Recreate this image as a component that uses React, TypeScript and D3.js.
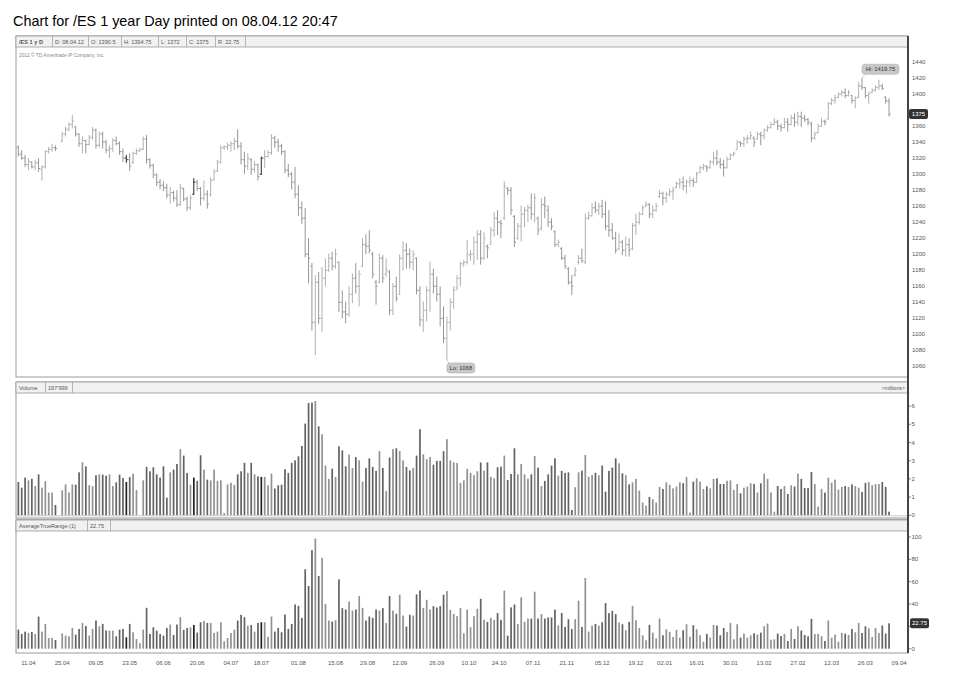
import * as d3 from "d3";

// daily bars: [open, high, low, close]; null = no session
const ohlc: ([number, number, number, number] | null)[] = [
  [1333,1336,1322,1325],[1325,1330,1318,1320],[1320,1324,1309,1312],[1312,1320,1305,1316],[1315,1316,1307,1309],
  [1309,1318,1305,1314],[1314,1320,1303,1307],[1306,1311,1292,1309],[1309,1330,1307,1328],[1328,1334,1326,1331],
  [1331,1338,1328,1333],[1333,1336,1329,1332],null,[1341,1353,1340,1350],[1350,1359,1347,1356],
  [1356,1365,1353,1362],[1362,1374,1357,1366],[1359,1360,1347,1350],[1350,1351,1334,1338],[1338,1347,1326,1342],
  [1342,1343,1326,1337],[1337,1349,1336,1346],[1346,1359,1343,1355],[1355,1357,1332,1336],[1336,1353,1333,1350],
  [1350,1353,1332,1340],[1340,1343,1326,1330],[1330,1336,1320,1332],[1332,1345,1328,1342],[1342,1347,1336,1338],
  [1338,1341,1324,1328],[1328,1332,1315,1320],[1320,1324,1314,1318],[1318,1326,1304,1310],[1314,1328,1313,1326],
  [1326,1332,1324,1329],[1329,1333,1328,1331],[1331,1347,1330,1344],[1344,1349,1313,1318],[1318,1320,1307,1311],
  [1311,1313,1295,1299],[1299,1301,1285,1290],[1290,1294,1281,1286],[1286,1291,1279,1283],[1283,1288,1270,1274],
  [1274,1284,1263,1277],[1277,1279,1266,1270],[1270,1280,1259,1262],[1262,1288,1260,1283],[1282,1283,1266,1269],
  [1269,1272,1254,1258],[1258,1274,1255,1270],[1275,1295,1274,1290],[1290,1293,1279,1282],[1282,1284,1261,1270],
  [1270,1292,1267,1275],[1275,1280,1257,1263],[1274,1296,1272,1292],[1293,1306,1292,1303],[1304,1318,1303,1315],
  [1315,1336,1313,1333],[1333,1336,1330,1334],[1334,1339,1330,1336],[1336,1341,1328,1338],[1338,1345,1330,1341],
  [1341,1356,1332,1335],[1335,1340,1312,1318],[1318,1328,1300,1310],[1310,1326,1305,1320],[1318,1320,1299,1306],
  [1306,1316,1302,1312],[1312,1313,1292,1297],[1300,1322,1299,1320],[1320,1330,1308,1322],[1322,1330,1321,1327],
  [1327,1350,1324,1345],[1345,1348,1333,1340],[1340,1344,1328,1335],[1335,1338,1324,1328],[1328,1330,1301,1305],
  [1305,1313,1296,1300],[1300,1303,1281,1290],[1290,1309,1270,1275],[1275,1286,1248,1258],[1258,1266,1238,1245],
  [1245,1258,1196,1200],[1200,1220,1164,1195],[1185,1189,1105,1115],[1115,1174,1074,1165],[1165,1178,1113,1120],
  [1120,1184,1103,1170],[1170,1195,1160,1180],[1180,1201,1178,1195],[1195,1203,1180,1185],[1185,1207,1182,1200],
  [1190,1191,1128,1140],[1140,1155,1120,1128],[1128,1141,1114,1125],[1125,1160,1122,1150],[1150,1176,1139,1170],
  [1170,1189,1151,1160],[1160,1180,1135,1175],[1185,1220,1184,1212],[1212,1225,1200,1210],[1210,1230,1201,1205],
  [1200,1203,1170,1175],[1165,1168,1137,1160],[1165,1201,1164,1195],[1195,1199,1164,1170],[1175,1195,1172,1180],
  [1178,1180,1124,1130],[1130,1164,1124,1160],[1160,1172,1141,1145],[1150,1200,1150,1195],[1195,1216,1180,1205],
  [1205,1214,1182,1200],[1200,1207,1182,1190],[1190,1205,1180,1200],[1195,1196,1150,1155],[1155,1160,1110,1118],
  [1118,1141,1103,1130],[1130,1160,1116,1155],[1155,1191,1128,1175],[1175,1182,1151,1160],[1160,1172,1141,1150],
  [1150,1160,1110,1120],[1120,1135,1089,1095],[1095,1122,1068,1115],[1115,1145,1105,1140],[1140,1160,1132,1155],
  [1158,1174,1155,1170],[1170,1191,1160,1188],[1188,1193,1184,1190],[1190,1218,1187,1200],[1199,1205,1192,1200],
  [1200,1222,1187,1215],[1215,1230,1193,1225],[1225,1230,1187,1195],[1195,1228,1193,1220],[1210,1212,1195,1208],
  [1212,1234,1212,1230],[1230,1253,1222,1245],[1245,1255,1224,1240],[1240,1243,1220,1238],[1245,1291,1243,1285],
  [1282,1284,1274,1280],[1280,1284,1249,1255],[1247,1249,1209,1215],[1220,1239,1218,1235],[1235,1261,1216,1250],
  [1250,1259,1234,1255],[1255,1262,1240,1258],[1258,1276,1243,1250],[1250,1276,1240,1270],[1245,1247,1224,1230],
  [1232,1270,1230,1262],[1262,1272,1245,1260],[1255,1261,1234,1240],[1240,1245,1230,1235],[1228,1230,1209,1212],
  [1212,1218,1209,1215],[1207,1209,1193,1195],[1195,1199,1182,1185],[1182,1184,1162,1165],[1165,1174,1149,1160],
  [1174,1184,1172,1180],[1190,1199,1187,1195],[1195,1207,1189,1192],[1190,1251,1188,1245],[1245,1253,1243,1248],
  [1248,1264,1247,1258],[1258,1266,1251,1255],[1255,1264,1249,1260],[1260,1268,1245,1250],[1250,1266,1230,1235],
  [1235,1255,1222,1230],[1230,1239,1218,1220],[1220,1228,1201,1205],[1207,1226,1205,1215],[1215,1218,1199,1205],
  [1205,1222,1197,1212],[1212,1220,1197,1205],[1207,1239,1205,1236],[1236,1251,1224,1240],[1240,1253,1237,1250],
  [1250,1261,1249,1258],[1260,1266,1259,1262],[1262,1264,1245,1250],[1250,1261,1245,1255],[1255,1264,1253,1260],
  [1272,1280,1270,1276],[1276,1278,1261,1270],[1270,1278,1264,1275],[1275,1282,1272,1278],[1278,1284,1268,1280],
  [1284,1291,1282,1288],[1288,1295,1282,1290],[1290,1297,1280,1285],[1285,1293,1276,1290],[1290,1297,1284,1292],
  [1292,1295,1284,1290],[1290,1303,1289,1300],[1302,1311,1301,1308],[1308,1313,1305,1310],[1310,1311,1303,1308],
  [1308,1318,1307,1315],[1315,1328,1311,1320],[1320,1330,1311,1315],[1315,1320,1307,1312],[1312,1318,1297,1308],
  [1308,1322,1307,1318],[1319,1326,1318,1324],[1324,1328,1322,1326],[1331,1343,1330,1340],[1340,1341,1334,1338],
  [1338,1347,1334,1344],[1344,1349,1338,1345],[1345,1353,1343,1348],[1345,1347,1334,1340],[1344,1353,1343,1350],
  [1350,1353,1336,1348],[1348,1357,1343,1355],[1355,1361,1353,1358],[1358,1365,1357,1362],[1362,1370,1361,1365],
  [1365,1368,1355,1360],[1360,1363,1353,1358],[1358,1370,1357,1365],[1365,1370,1353,1362],[1362,1374,1361,1370],
  [1370,1376,1359,1365],[1365,1378,1361,1372],[1372,1378,1359,1370],[1370,1374,1365,1368],[1368,1370,1361,1365],
  [1363,1365,1340,1345],[1345,1353,1343,1350],[1352,1363,1351,1360],[1360,1370,1359,1366],[1366,1368,1361,1365],
  [1369,1390,1368,1388],[1388,1395,1386,1392],[1392,1399,1388,1395],[1396,1402,1395,1400],[1400,1405,1397,1402],
  [1402,1407,1395,1398],[1398,1405,1397,1402],[1398,1399,1388,1392],[1392,1397,1382,1395],[1396,1415,1395,1410],
  [1410,1419.75,1405,1408],[1408,1409,1395,1398],[1398,1403,1388,1400],[1402,1407,1401,1405],[1405,1411,1403,1408],
  [1408,1418,1405,1410],[1410,1413,1405,1407],[1396,1397,1388,1392],[1390.5,1394.75,1372,1375],
];

// volume, millions of contracts
const volume: (number | null)[] = [
  1.83,1.52,2.07,1.92,2.01,1.61,2.25,1.52,1.87,1.25,1.25,0.57,null,
  1.37,1.7,1.26,1.7,1.68,2.36,2.91,2.69,1.65,1.6,2.2,2.25,2.23,2.18,2.25,1.61,1.81,2.23,2.05,1.83,2.1,2.29,1.39,null,
  1.92,2.66,2.42,2.64,2.25,2.07,2.69,0.97,2.36,2.51,2.82,3.63,3.28,2.33,1.68,2.07,1.89,3.3,2.51,1.96,1.92,2.51,1.89,1.92,0.13,
  1.7,1.79,1.67,2.25,2.42,2.88,2.33,2.88,2.25,2.14,2.11,2.11,1.65,2.29,1.47,1.65,1.68,2.53,2.33,2.88,3.02,3.24,3.81,5.04,6.17,6.19,6.28,4.89,4.45,2.73,
  2.0,2.56,2.11,3.79,3.57,2.69,3.33,2.6,3.2,3.02,1.85,2.6,3.13,2.66,2.44,3.53,2.6,1.34,3.17,3.63,3.68,3.53,3.02,2.66,2.47,2.6,3.28,4.73,3.35,3.08,
  3.2,2.78,2.99,2.99,3.52,4.18,3.02,2.91,2.88,1.78,1.92,2.55,2.33,2.2,2.42,2.9,
  2.45,2.91,2.12,2.03,2.64,2.67,3.28,1.94,2.27,3.68,
  2.25,2.82,2.25,2.01,2.25,3.26,2.62,1.61,1.89,2.25,
  2.73,3.13,2.18,2.44,2.33,2.36,0.29,1.54,2.36,2.45,
  3.32,2.12,2.22,2.34,2.2,2.73,1.3,2.44,2.62,3.13,
  2.86,2.31,2.2,1.7,1.81,2.0,1.36,0.7,0.53,1.01,
  0.88,0.7,1.56,1.45,1.81,1.68,1.48,1.58,1.81,1.76,
  2.11,0.15,1.85,2.03,1.85,1.45,1.59,1.48,2.0,2.03,
  1.72,1.72,1.9,1.92,1.39,1.72,1.21,1.52,1.58,1.76,
  1.72,1.25,1.76,2.29,2.0,1.26,0.2,1.61,1.45,1.61,
  1.17,1.65,1.58,2.29,2.0,1.5,1.5,2.38,1.72,0.48,
  1.45,1.25,2.07,1.79,1.96,1.41,1.56,1.61,1.56,1.7,
  1.61,1.52,1.28,1.78,1.83,1.65,1.72,1.72,1.83,1.56,
  0.2,
];

// AverageTrueRange (1)
const atr: (number | null)[] = [
  17.1,13.2,15.3,14.1,15,13.2,28.8,15.3,22.2,9.6,9.6,7.8,null,
  13.8,11.7,11.1,18.6,12.6,17.7,23.1,20.4,11.7,17.7,25.2,20.1,22.2,16.2,16.2,16.2,11.1,17.1,17.7,10.2,22.2,14.7,8.7,4.8,
  17.1,36.6,13.2,19.2,16.2,13.2,11.7,18.6,21.6,12.3,21.6,28.2,16.8,18.6,19.2,21.3,14.4,23.7,24.9,23.1,23.1,14.1,15.3,23.7,6.6,
  9.6,14.1,17.1,25.2,30.3,28.2,20.7,21.3,15.3,23.1,23.7,23.7,10.8,28.8,15.3,18.6,14.7,30.6,17.7,22.2,39.6,38.4,27.6,71.1,56.1,88.2,98.7,65.1,81.3,40.2,
  25.2,24.3,25.5,62.1,36.3,35.1,42.3,34.2,35.1,47.1,36.6,25.2,28.8,27.6,35.1,34.2,36.3,23.1,47.1,34.2,31.2,48.3,29.7,19.8,30.3,29.7,48.6,52.2,36.6,43.8,
  35.1,38.1,36.9,38.1,48.3,51.6,34.8,31.2,29.1,36.3,13.8,35.1,19.2,29.1,35.7,44.7,
  26,24,27.6,25.8,32,25.8,52,11.7,37,39.6,
  22,46,24,27,27,51,27,31,27,28,
  28,35,21,32,19.5,26.4,17.7,26.4,43,19.5,
  63.3,15.3,20.7,22.2,20.7,23.7,40.8,31.8,33.9,30.9,
  23.4,21.9,16.5,24,38.4,25.5,18.6,12,7.5,21.3,
  14.4,9.3,27,12,17.4,15,10.5,16.8,9.9,16.5,
  21.9,10.8,21,17.4,12,6.3,13.2,9.9,21.3,20.7,
  12,18.6,15,23.1,8.4,21.9,9.9,13.5,9.9,12,
  13.8,12.6,14.4,20.1,22.5,8.1,8.4,13.5,11.4,13.2,
  6.9,17.7,8.7,20.1,16.2,12.3,11.1,26.7,13.2,13.2,
  11.1,6.9,25.2,9.9,12.6,6.3,14.1,13.5,12.3,17.7,
  14.7,23.1,14.1,20.1,18.3,10.5,18.6,14.1,20.7,13.5,
  22.75,
];

const darkBars = [32, 52, 72];

const priceTicks = [1060,1080,1100,1120,1140,1160,1180,1200,1220,1240,1260,1280,1300,1320,1340,1360,1380,1400,1420,1440];
const volumeTicks = [0, 1, 2, 3, 4, 5, 6];
const atrTicks = [0, 20, 40, 60, 80, 100];

const dateLabels = ["11.04","25.04","09.05","23.05","06.06","20.06","04.07","18.07","01.08","15.08","29.08","12.09","26.09","10.10",
  "24.10","07.11","21.11","05.12","19.12","02.01","16.01","30.01","13.02","27.02","12.03","26.03","09.04"];
const dateIndex = [3,13,23,33,43,53,63,72,83,94,103.5,113,124,133.5,142.5,152.5,162.5,173,183,191.5,201,211,221,231,241,251,261];

const hiIndex = 250;
const loIndex = 127;

const FONT = "'Liberation Sans', Arial, sans-serif";
const L = 16;
const R = 908;

function Header({ y, cells }: { y: number; cells: { t: string; w: number; b?: boolean }[] }) {
  let cx = L;
  return (
    <g>
      <rect x={L} y={y} width={R - L} height={11} fill="#f1f1f1" stroke="#9a9a9a" strokeWidth={0.8} />
      {cells.map((c, i) => {
        const x0 = cx;
        cx += c.w;
        return (
          <g key={i}>
            <text x={x0 + 3} y={y + 8} fontSize={5.6} fontWeight={c.b ? "bold" : "normal"} fill="#555" fontFamily={FONT}>{c.t}</text>
            <line x1={cx + 0.5} x2={cx + 0.5} y1={y} y2={y + 11} stroke="#a5a5a5" strokeWidth={0.8} />
          </g>
        );
      })}
    </g>
  );
}

export default function App() {
  const n = ohlc.length;
  const x = d3.scaleLinear().domain([0, n - 1]).range([18.3, 889]);
  const yP = d3.scaleLinear().domain([1060, 1440]).range([366.4, 62]);
  const yV = d3.scaleLinear().domain([0, 6]).range([515.3, 406.1]);
  const yA = d3.scaleLinear().domain([0, 100]).range([648.7, 537]);

  const last = ohlc[n - 1]!;
  const lastAtr = atr[n - 1]!;
  const isUp = (i: number) => { const b = ohlc[i]; return b ? b[3] >= b[0] : true; };

  const priceColor = (i: number) => darkBars.includes(i) ? "#2a2a2a" : isUp(i) ? "#b0b0b0" : "#969696";
  const subColor = (i: number) => darkBars.includes(i) ? "#222" : isUp(i) ? "#929292" : "#626262";

  const hi = ohlc[hiIndex]!;
  const lo = ohlc[loIndex]!;

  // axis labels hidden behind the last-value markers, as in the reference
  const priceMarkY = yP(last[3]);
  const atrMarkY = yA(lastAtr);

  return (
    <svg width={953} height={682} style={{ position: "absolute", left: 0, top: 0, background: "#fff" }}>
      <text x={13} y={26} fontSize={14.4} fill="#000" fontFamily={FONT}>Chart for /ES 1 year Day printed on 08.04.12 20:47</text>

      {/* price panel */}
      <rect x={L} y={36} width={R - L} height={341} fill="none" stroke="#9a9a9a" strokeWidth={1} />
      <Header y={36} cells={[
        { t: "/ES 1 y D", w: 36, b: true },
        { t: "D: 08.04.12", w: 36 },
        { t: `O: ${last[0]}`, w: 33 },
        { t: `H: ${last[1]}`, w: 37 },
        { t: `L: ${last[2]}`, w: 28 },
        { t: `C: ${last[3]}`, w: 29 },
        { t: `R: ${lastAtr}`, w: 30 },
      ]} />
      <text x={19} y={57} fontSize={4.8} fill="#888" fontFamily={FONT}>2012 © TD Ameritrade IP Company, Inc.</text>

      {priceTicks.filter(t => Math.abs(yP(t) - priceMarkY) > 6).map(t => (
        <text key={t} x={912} y={yP(t) + 2} fontSize={6} fill="#555" fontFamily={FONT}>{t}</text>
      ))}

      {ohlc.map((b, i) => {
        if (!b) return null;
        const cx = x(i);
        const c = priceColor(i);
        return (
          <g key={i} stroke={c} strokeWidth={1}>
            <line x1={cx} x2={cx} y1={yP(b[1])} y2={yP(b[2])} />
            <line x1={cx - 1.6} x2={cx} y1={yP(b[0])} y2={yP(b[0])} />
            <line x1={cx} x2={cx + 1.6} y1={yP(b[3])} y2={yP(b[3])} />
          </g>
        );
      })}

      {/* hi / lo bubbles */}
      <g fontFamily={FONT} fontSize={5.8}>
        <line x1={x(hiIndex)} x2={x(hiIndex) + 3} y1={yP(hi[1])} y2={yP(hi[1]) - 4} stroke="#aaa" strokeWidth={0.6} />
        <rect x={x(hiIndex)} y={yP(hi[1]) - 14} width={37} height={10} rx={3} fill="#c9c9c9" stroke="#b0b0b0" strokeWidth={0.6} />
        <text x={x(hiIndex) + 18.5} y={yP(hi[1]) - 7} textAnchor="middle" fill="#333">Hi: {hi[1]}</text>
        <line x1={x(loIndex)} x2={x(loIndex) + 2} y1={yP(lo[2])} y2={yP(lo[2]) + 3} stroke="#aaa" strokeWidth={0.6} />
        <rect x={x(loIndex)} y={yP(lo[2]) + 3} width={28} height={10} rx={3} fill="#c9c9c9" stroke="#b0b0b0" strokeWidth={0.6} />
        <text x={x(loIndex) + 14} y={yP(lo[2]) + 10} textAnchor="middle" fill="#333">Lo: {lo[2]}</text>
      </g>

      {/* volume panel */}
      <rect x={L} y={382} width={R - L} height={136} fill="none" stroke="#9a9a9a" strokeWidth={1} />
      <Header y={382} cells={[{ t: "Volume", w: 29 }, { t: "197'999", w: 27 }]} />
      <text x={905} y={390} fontSize={5.2} textAnchor="end" fill="#555" fontFamily={FONT}>&lt;millions&gt;</text>
      {volume.map((v, i) => v == null ? null : (
        <rect key={i} x={x(i) - 0.8} y={yV(v)} width={1.7} height={yV(0) - yV(v)} fill={subColor(i)} />
      ))}
      <line x1={L} x2={R} y1={yV(0) + 0.5} y2={yV(0) + 0.5} stroke="#bbb" strokeWidth={0.8} />
      {volumeTicks.map(t => (
        <g key={t}>
          <line x1={R} x2={R + 3} y1={yV(t)} y2={yV(t)} stroke="#666" strokeWidth={0.8} />
          <text x={R + 3.5} y={yV(t) + 2} fontSize={6} fill="#555" fontFamily={FONT}>{t}</text>
        </g>
      ))}
      <rect x={L} y={518} width={R - L} height={2} fill="#c4c4c4" />

      {/* ATR panel */}
      <rect x={L} y={520} width={R - L} height={133} fill="none" stroke="#9a9a9a" strokeWidth={1} />
      <Header y={520} cells={[{ t: "AverageTrueRange (1)", w: 71 }, { t: `${lastAtr}`, w: 23 }]} />
      {atr.map((v, i) => v == null ? null : (
        <rect key={i} x={x(i) - 0.8} y={yA(v)} width={1.7} height={yA(0) - yA(v)} fill={subColor(i)} />
      ))}
      {atrTicks.map(t => (
        <g key={t}>
          <line x1={R} x2={R + 3} y1={yA(t)} y2={yA(t)} stroke="#666" strokeWidth={0.8} />
          {Math.abs(yA(t) - atrMarkY) > 6 && (
            <text x={R + 3.5} y={yA(t) + 2} fontSize={6} fill="#555" fontFamily={FONT}>{t}</text>
          )}
        </g>
      ))}

      {/* right axis spine */}
      <line x1={R} x2={R} y1={36} y2={653} stroke="#444" strokeWidth={2} />

      {/* last value markers */}
      <g fontFamily={FONT} fontSize={6}>
        <rect x={909} y={priceMarkY - 5} width={19} height={10} rx={2} fill="#333" />
        <text x={918.5} y={priceMarkY + 2.2} textAnchor="middle" fill="#fff">{last[3]}</text>
        <rect x={910} y={atrMarkY - 5} width={19} height={10} rx={2} fill="#333" />
        <text x={919.5} y={atrMarkY + 2.2} textAnchor="middle" fill="#fff">{lastAtr}</text>
      </g>

      {/* date axis */}
      {dateLabels.map((d, i) => (
        <text key={d} x={x(dateIndex[i])} y={665} fontSize={6} textAnchor="middle" fill="#555" fontFamily={FONT}>{d}</text>
      ))}
    </svg>
  );
}
